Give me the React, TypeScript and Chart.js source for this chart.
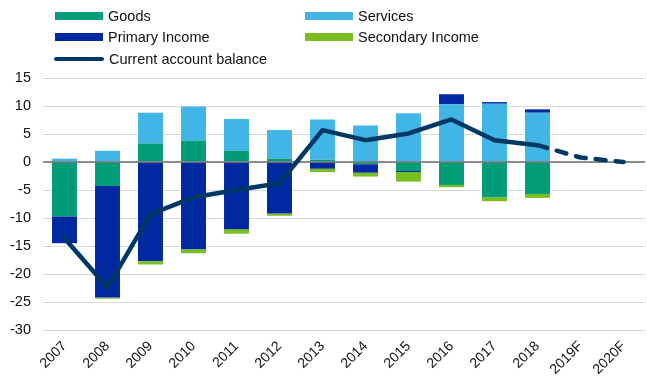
import React, { useEffect, useRef } from "react";
import { Chart, registerables } from "chart.js";

Chart.register(...registerables);

const categories = ["2007", "2008", "2009", "2010", "2011", "2012", "2013", "2014", "2015", "2016", "2017", "2018", "2019F", "2020F"];
const goods = [-9.7, -4.3, 3.3, 3.8, 2.0, 0.6, 0.4, -0.4, -1.6, -4.1, -6.3, -5.7, null, null];
const services = [0.6, 2.0, 5.5, 6.1, 5.7, 5.1, 7.2, 6.5, 8.7, 10.3, 10.4, 8.8, null, null];
const primaryIncome = [-4.8, -19.9, -17.7, -15.6, -12.0, -9.2, -1.2, -1.5, -0.2, 1.8, 0.3, 0.6, null, null];
const secondaryIncome = [0, -0.2, -0.6, -0.7, -0.8, -0.4, -0.6, -0.7, -1.7, -0.4, -0.7, -0.7, null, null];
const currentAccount = [-13.6, -22.4, -9.3, -6.3, -5.0, -3.8, 5.7, 3.9, 5.1, 7.6, 3.9, 3.0, 0.8, 0.0];
const forecastStartIndex = 11;

const COLORS = {
  goods: "#009B77",
  services: "#41B6E6",
  primary: "#0028A0",
  secondary: "#78BE20",
  line: "#003865",
};

const FONT = "'Liberation Sans', Arial, sans-serif";

const zeroLinePlugin = {
  id: "zeroLine",
  beforeDatasetDraw(chart: any, args: any) {
    if (args.meta.type !== "line") return;
    const { ctx, chartArea, scales } = chart;
    const y = scales.y.getPixelForValue(0);
    ctx.save();
    ctx.strokeStyle = "#6b6b6b";
    ctx.lineWidth = 1.5;
    ctx.beginPath();
    ctx.moveTo(chartArea.left, y);
    ctx.lineTo(chartArea.right, y);
    ctx.stroke();
    ctx.restore();
  },
};

function LegendBox({ x, y, color, label, line }: { x: number; y: number; color: string; label: string; line?: boolean }) {
  return (
    <div style={{ position: "absolute", left: x, top: y - 9, height: 18, display: "flex", alignItems: "center" }}>
      <div
        style={{
          width: line ? 50 : 48,
          height: line ? 4 : 8,
          background: color,
          borderRadius: line ? 2 : 0,
          marginRight: 5,
          marginLeft: line ? -1 : 0,
        }}
      />
      <span style={{ fontFamily: FONT, fontSize: 14.5, color: "#111", whiteSpace: "nowrap" }}>{label}</span>
    </div>
  );
}

export default function App() {
  const canvasRef = useRef<HTMLCanvasElement | null>(null);

  useEffect(() => {
    if (!canvasRef.current) return;
    const chart = new Chart(canvasRef.current, {
      type: "bar",
      data: {
        labels: categories,
        datasets: [
          {
            type: "line",
            label: "Current account balance",
            data: currentAccount,
            borderColor: COLORS.line,
            backgroundColor: COLORS.line,
            borderWidth: 4.5,
            pointRadius: 0,
            borderCapStyle: "round",
            borderJoinStyle: "round",
            tension: 0,
            order: 0,
            segment: {
              borderDash: (ctx: any) => (ctx.p0DataIndex >= forecastStartIndex ? [10, 10] : undefined),
            },
          } as any,
          { label: "Goods", data: goods, backgroundColor: COLORS.goods, order: 1, stack: "s" },
          { label: "Services", data: services, backgroundColor: COLORS.services, order: 1, stack: "s" },
          { label: "Primary Income", data: primaryIncome, backgroundColor: COLORS.primary, order: 1, stack: "s" },
          { label: "Secondary Income", data: secondaryIncome, backgroundColor: COLORS.secondary, order: 1, stack: "s" },
        ],
      },
      options: {
        animation: false,
        responsive: true,
        maintainAspectRatio: false,
        layout: { padding: { top: 78, right: 2, bottom: 0, left: 0 } },
        datasets: { bar: { categoryPercentage: 1, barPercentage: 0.58 } },
        plugins: { legend: { display: false }, tooltip: { enabled: false } },
        scales: {
          x: {
            stacked: true,
            grid: { display: false, drawTicks: false },
            border: { display: false },
            ticks: {
              autoSkip: false,
              minRotation: 45,
              maxRotation: 45,
              padding: 8,
              color: "#111",
              font: { family: FONT, size: 14 },
            },
            afterFit: (scale: any) => {
              scale.height = 46;
            },
          },
          y: {
            stacked: true,
            min: -30,
            max: 15,
            grid: { color: "#d9d9d9", lineWidth: 1, drawTicks: false },
            border: { display: false },
            ticks: {
              stepSize: 5,
              padding: 12,
              color: "#111",
              font: { family: FONT, size: 14.5 },
            },
            afterFit: (scale: any) => {
              scale.width = 43;
            },
          },
        },
      },
      plugins: [zeroLinePlugin],
    });
    return () => chart.destroy();
  }, []);

  return (
    <div style={{ position: "absolute", left: 0, top: 0, width: 647, height: 376, background: "#fff", overflow: "hidden" }}>
      <canvas ref={canvasRef} />
      <LegendBox x={55} y={16} color={COLORS.goods} label="Goods" />
      <LegendBox x={305} y={16} color={COLORS.services} label="Services" />
      <LegendBox x={55} y={37} color={COLORS.primary} label="Primary Income" />
      <LegendBox x={305} y={37} color={COLORS.secondary} label="Secondary Income" />
      <LegendBox x={55} y={59} color={COLORS.line} label="Current account balance" line />
    </div>
  );
}
